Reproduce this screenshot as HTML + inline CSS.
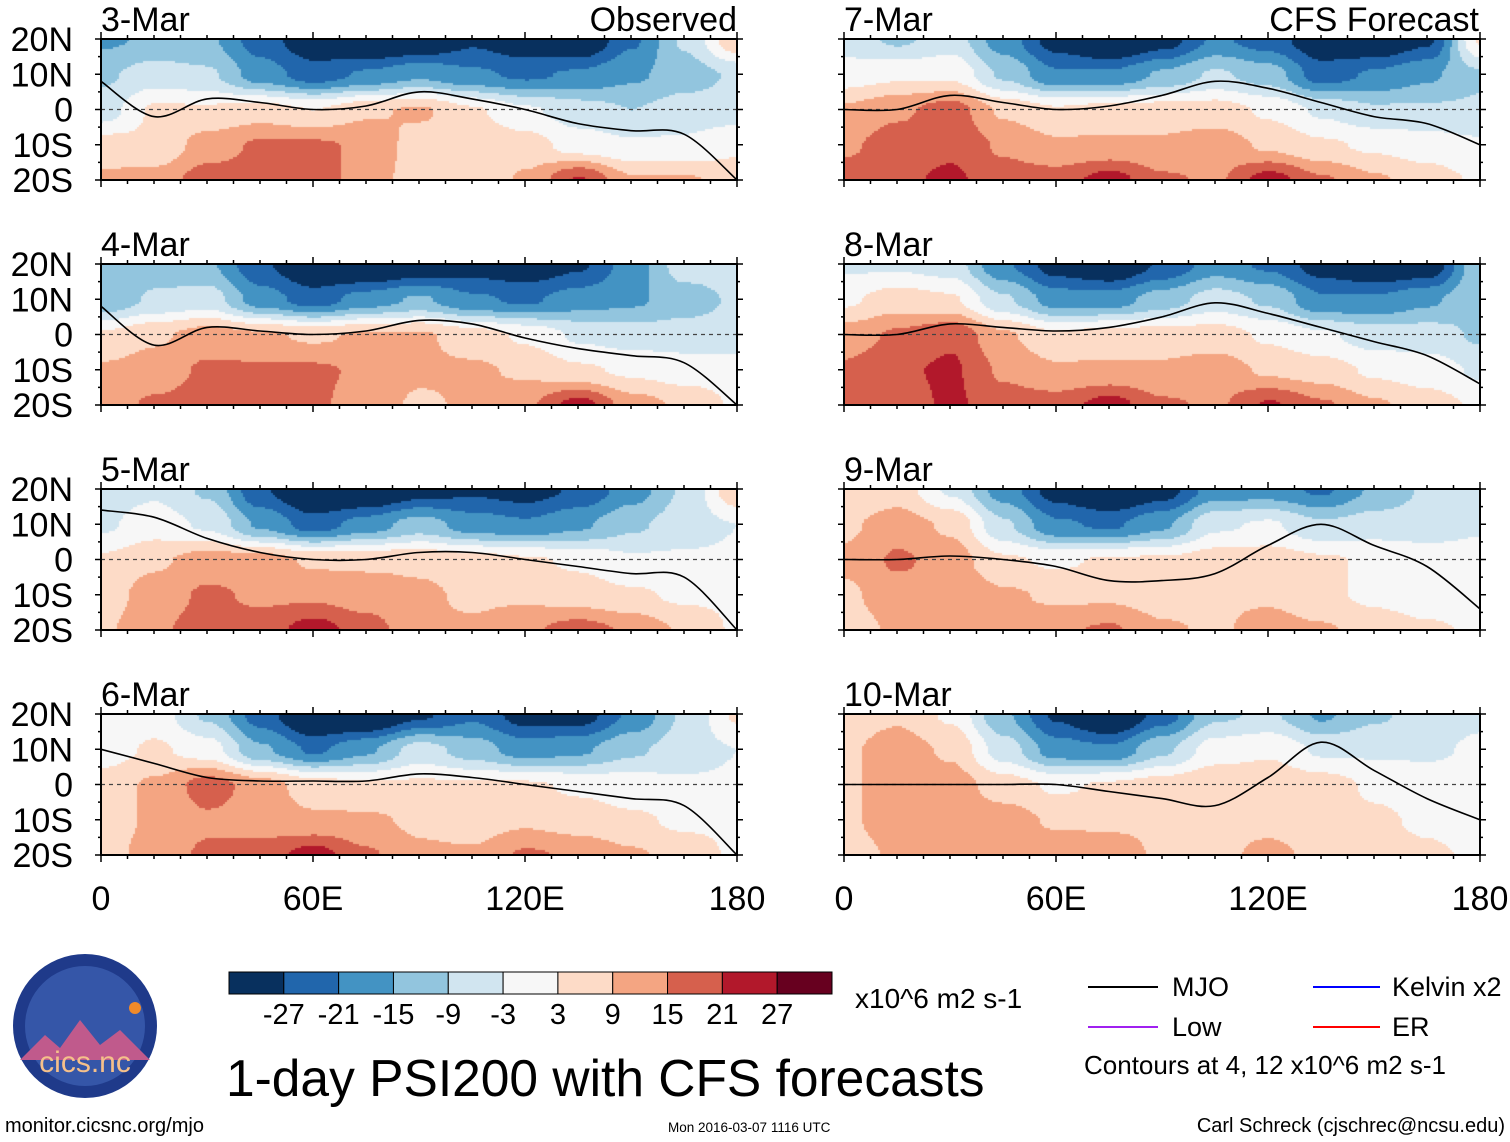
<!DOCTYPE html>
<html><head><meta charset="utf-8">
<style>
body{margin:0;background:#fff;width:1510px;height:1142px;overflow:hidden;position:relative;font-family:"Liberation Sans",sans-serif;}
canvas{position:absolute;}
#ov{position:absolute;left:0;top:0;}
</style></head>
<body>
<div id="maps"></div>
<svg id="ov" width="1510" height="1142"></svg>
<script>
const panelTitles=["3-Mar","4-Mar","5-Mar","6-Mar","7-Mar","8-Mar","9-Mar","10-Mar"];
const latLabels=["20N","10N","0","10S","20S"];
const lonLabels=["0","60E","120E","180"];
const levels=[-27,-21,-15,-9,-3,3,9,15,21,27];
const levelColors=["#08305e","#2166ac","#4393c3","#92c5de","#d1e5f0","#f7f7f7","#fddbc7","#f4a582","#d6604d","#b2182b","#67001f"];
// PSI200 anomaly grids: rows 20N,10N,0,10S,20S ; cols 0E..180 step 15
const grid0=[[-16,-14,-14,-24,-32,-36,-34,-28,-32,-34,-22,-8,8],[-10,-6,-8,-18,-24,-20,-16,-20,-22,-20,-16,-12,-8],[-6,4,4,6,3,8,10,4,-2,-6,-9,-6,-6],[6,4,12,16,16,14,6,8,6,0,-2,-2,2],[10,12,18,18,16,14,4,4,10,22,10,10,6]];
const grid1=[[-14,-12,-14,-26,-34,-36,-32,-30,-32,-28,-18,-6,-6],[-14,-8,-6,-18,-24,-18,-14,-20,-22,-18,-16,-12,-8],[4,8,12,10,8,10,10,6,2,-4,-6,-6,-6],[10,12,16,16,16,14,10,10,8,4,2,0,0],[12,16,18,18,16,12,8,10,14,24,12,8,2]];
const grid2=[[-6,-4,-10,-26,-36,-36,-30,-28,-30,-26,-18,-8,8],[-4,0,-4,-16,-24,-18,-12,-18,-20,-16,-10,-6,-3],[4,8,12,12,8,8,8,6,4,2,-2,-2,-2],[6,12,16,14,14,12,10,8,8,6,4,2,2],[8,14,18,18,24,18,10,10,14,18,14,8,2]];
const grid3=[[-2,0,-10,-24,-36,-36,-28,-22,-30,-30,-20,-8,4],[0,4,0,-14,-22,-16,-6,-12,-18,-16,-10,-6,-3],[6,10,18,12,6,4,4,4,4,2,0,-2,-2],[6,10,14,12,10,10,8,6,8,6,4,2,2],[6,12,16,18,24,16,10,10,16,14,10,6,2]];
const grid4=[[-6,-10,-6,-18,-30,-36,-30,-20,-24,-32,-34,-28,4],[0,2,2,-10,-20,-20,-14,-8,-12,-24,-20,-16,-10],[10,14,18,8,4,6,6,6,2,-4,-8,-8,-8],[14,18,20,14,10,10,10,12,8,4,2,0,-2],[18,20,22,18,18,24,16,14,24,16,10,6,2]];
const grid5=[[-4,-4,-6,-20,-30,-34,-26,-18,-22,-30,-34,-32,-10],[2,6,4,-8,-18,-18,-12,-6,-10,-20,-20,-16,-10],[12,16,20,10,4,6,6,6,2,-2,-6,-6,-10],[16,20,22,14,10,10,10,12,8,6,2,0,-4],[16,18,22,18,18,24,16,14,22,16,10,6,2]];
const grid6=[[4,6,-4,-18,-30,-36,-30,-18,-18,-22,-14,-8,-6],[8,12,8,-8,-20,-22,-16,-4,-2,-8,-6,-6,-4],[10,16,12,4,2,4,4,6,6,4,2,0,0],[8,12,14,10,8,8,6,8,8,4,2,0,0],[6,10,14,10,14,16,10,8,12,10,6,4,2]];
const grid7=[[6,8,2,-14,-28,-36,-24,-10,-8,-16,-10,-6,-4],[8,12,8,-6,-18,-20,-10,0,2,-4,-4,-4,-2],[8,12,12,6,2,4,6,8,8,6,2,0,0],[8,12,14,12,8,8,8,8,8,6,4,2,0],[6,10,12,14,14,12,8,8,10,8,6,4,2]];
const grids=[grid0,grid1,grid2,grid3,grid4,grid5,grid6,grid7];
// MJO contour latitude at lon 0..180 step 15
const mjo0=[8,-2,3,2,0,1,5,3,0,-4,-6,-7,-20];
const mjo1=[8,-3,2,1,0,1,4,3,-1,-4,-6,-8,-20];
const mjo2=[14,12,6,2,0,0,2,2,0,-2,-4,-5,-20];
const mjo3=[10,6,2,1,1,1,3,2,0,-2,-4,-6,-20];
const mjo4=[0,0,4,2,0,1,4,8,6,2,-2,-4,-10];
const mjo5=[0,0,3,2,1,2,5,9,6,2,-2,-6,-14];
const mjo6=[0,0,1,0,-2,-6,-6,-4,4,10,4,-2,-14];
const mjo7=[0,0,0,0,0,-2,-4,-6,2,12,4,-4,-10];
const mjos=[mjo0,mjo1,mjo2,mjo3,mjo4,mjo5,mjo6,mjo7];

const NS="http://www.w3.org/2000/svg";
const ov=document.getElementById('ov');
const maps=document.getElementById('maps');
const PW=636,PH=141;
const lefts=[101,844];const tops=[39,264,489,714];
function xs(lon,x0){return x0+lon/180*PW;}
function ys(lat,y0){return y0+(20-lat)/40*PH;}
function colorFor(v){let i=0;while(i<levels.length&&v>=levels[i])i++;return levelColors[i];}
function sample(g,gx,gy){
  const i=Math.min(11,Math.floor(gx)),j=Math.min(3,Math.floor(gy));
  let fx=gx-i,fy=gy-j;fx=fx*fx*(3-2*fx);fy=fy*fy*(3-2*fy);
  return g[j][i]*(1-fx)*(1-fy)+g[j][i+1]*fx*(1-fy)+g[j+1][i]*(1-fx)*fy+g[j+1][i+1]*fx*fy;
}
function el(tag,attrs,parent){const e=document.createElementNS(NS,tag);for(const k in attrs)e.setAttribute(k,attrs[k]);(parent||ov).appendChild(e);return e;}
function txt(x,y,s,size,anchor,parent){const t=el('text',{x:x,y:y,'font-size':size,'text-anchor':anchor||'start','font-family':'Liberation Sans, sans-serif',fill:'#000'},parent);t.textContent=s;return t;}

for(let p=0;p<8;p++){
  const col=p<4?0:1,row=p%4;const x0=lefts[col],y0=tops[row];
  const c=document.createElement('canvas');c.width=PW;c.height=PH;
  c.style.left=x0+'px';c.style.top=y0+'px';
  
  
  maps.appendChild(c);
  const ctx=c.getContext('2d');const g=grids[p];
  for(let py=0;py<PH;py+=2)for(let px=0;px<PW;px+=2){
    ctx.fillStyle=colorFor(sample(g,px/PW*12,py/PH*4));ctx.fillRect(px,py,2,2);
  }
  const gp=el('g',{});
  
  
  const eq=el('line',{x1:x0,x2:x0+PW,y1:ys(0,y0),y2:ys(0,y0),stroke:'#444','stroke-width':1.2,'stroke-dasharray':'4,4'},gp);
  
  
  // MJO line (Catmull-Rom smoothed)
  const m=mjos[p];
  const pts=m.map((v,k)=>[xs(k*15,x0),ys(Math.max(-20,Math.min(20,v)),y0)]);
  let d='M'+pts[0][0].toFixed(1)+','+pts[0][1].toFixed(1);
  for(let k=0;k<pts.length-1;k++){
    const p0=pts[Math.max(0,k-1)],p1=pts[k],p2=pts[k+1],p3=pts[Math.min(pts.length-1,k+2)];
    const c1=[p1[0]+(p2[0]-p0[0])/6,p1[1]+(p2[1]-p0[1])/6],c2=[p2[0]-(p3[0]-p1[0])/6,p2[1]-(p3[1]-p1[1])/6];
    d+='C'+c1[0].toFixed(1)+','+c1[1].toFixed(1)+' '+c2[0].toFixed(1)+','+c2[1].toFixed(1)+' '+p2[0].toFixed(1)+','+p2[1].toFixed(1);
  }
  const ml=el('path',{d:d,fill:'none',stroke:'#000','stroke-width':1.6,'stroke-linejoin':'round'},gp);
  
  
  const fr=el('rect',{x:x0,y:y0,width:PW,height:PH,fill:'none',stroke:'#000','stroke-width':2},gp);
  
  
  for(let k=0;k<=24;k++){const x=x0+k*PW/24;const L=(k%8===0)?7:4;
    el('line',{x1:x,x2:x,y1:y0,y2:y0-L,stroke:'#000','stroke-width':1.5},gp);
    el('line',{x1:x,x2:x,y1:y0+PH,y2:y0+PH+L,stroke:'#000','stroke-width':1.5},gp);}
  for(let k=0;k<=8;k++){const y=y0+k*PH/8;const L=(k%2===0)?6:3;
    el('line',{x1:x0,x2:x0-L,y1:y,y2:y,stroke:'#000','stroke-width':1.5},gp);
    el('line',{x1:x0+PW,x2:x0+PW+L,y1:y,y2:y,stroke:'#000','stroke-width':1.5},gp);}
  const tt=txt(x0,y0-8,panelTitles[p],34,'start',gp);
  
  
  if(col===0){for(let k=0;k<5;k++){const lt=txt(73,y0+k*PH/4+12,latLabels[k],34,'end',gp);
    
    }}
}
const t1=txt(737,31,'Observed',34,'end');


const t2=txt(1479,31,'CFS Forecast',34,'end');


for(let col=0;col<2;col++)for(let k=0;k<4;k++){
  const xl=txt(lefts[col]+k*PW/3,910,lonLabels[k],34,'middle');
  
  
}
const cb=el('g',{});


const cbx=229,cbw=603/11;
for(let k=0;k<11;k++){const r=el('rect',{x:cbx+k*cbw,y:972,width:cbw,height:22,fill:levelColors[k],stroke:'#000','stroke-width':1},cb);
  
  }
for(let k=0;k<10;k++){const l=txt(cbx+(k+1)*cbw,1024,String(levels[k]),29,'middle',cb);
  
  }
</script>
<svg width="1510" height="1142" style="position:absolute;left:0;top:0">
 <g>
  <circle cx="85" cy="1026" r="72" fill="#1f3a8a"/>
  <circle cx="85" cy="1026" r="60" fill="#3556a8"/>
  <path d="M20 1060 L45 1035 L60 1048 L80 1020 L100 1045 L120 1030 L150 1060 Z" fill="#c05a8c"/>
  <circle cx="135" cy="1008" r="6" fill="#f08a2a"/>
  <text x="85" y="1072" font-size="30" fill="#f5c08a" text-anchor="middle" font-family="Liberation Sans, sans-serif">cics.nc</text>
 </g>
 <text x="855" y="1008" font-size="28" font-family="Liberation Sans, sans-serif">x10^6 m2 s-1</text>
 <text x="226" y="1096" font-size="51.5" font-family="Liberation Sans, sans-serif">1-day PSI200 with CFS forecasts</text>
 <g font-family="Liberation Sans, sans-serif" font-size="27">
  <line x1="1088" x2="1158" y1="987" y2="987" stroke="#000" stroke-width="2"/><text x="1172" y="996">MJO</text>
  <line x1="1313" x2="1380" y1="987" y2="987" stroke="#0000ff" stroke-width="2"/><text x="1392" y="996">Kelvin x2</text>
  <line x1="1088" x2="1158" y1="1027" y2="1027" stroke="#a020f0" stroke-width="2"/><text x="1172" y="1036">Low</text>
  <line x1="1313" x2="1380" y1="1027" y2="1027" stroke="#ff0000" stroke-width="2"/><text x="1392" y="1036">ER</text>
  <text x="1084" y="1074" font-size="26">Contours at 4, 12 x10^6 m2 s-1</text>
 </g>
 <text x="5" y="1132" font-size="20" font-family="Liberation Sans, sans-serif">monitor.cicsnc.org/mjo</text>
 <text x="668" y="1132" font-size="13.5" font-family="Liberation Sans, sans-serif">Mon 2016-03-07 1116 UTC</text>
 <text x="1505" y="1132" font-size="20" text-anchor="end" font-family="Liberation Sans, sans-serif">Carl Schreck (cjschrec@ncsu.edu)</text>
</svg>
</body></html>
